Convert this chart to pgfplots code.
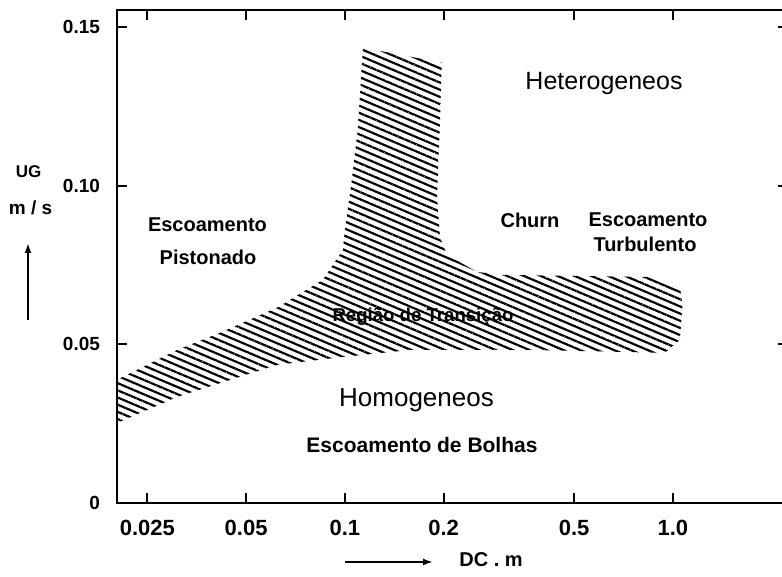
\documentclass[border=0pt]{standalone}
\usepackage{pgfplots}
\pgfplotsset{compat=1.18}
\usepackage{fontspec}
\setmainfont{Liberation Sans}
\usetikzlibrary{patterns.meta,arrows.meta}

\begin{document}
\begin{tikzpicture}
\begin{axis}[
  at={(58.5pt,37pt)}, anchor=south west,
  scale only axis, width=335.5pt, height=246.5pt,
  xmode=log, xmin=0.0202, xmax=2.243, ymin=0, ymax=0.1553,
  xtick={0.025,0.05,0.1,0.2,0.5,1}, xticklabels={0.025,0.05,0.1,0.2,0.5,1.0},
  xminorticks=false,
  ytick={0,0.05,0.1,0.15}, yticklabels={0,0.05,0.10,0.15},
  axis line style={line width=1.3pt},
  major tick length=5pt,
  tick style={line width=1pt, black},
  tick align=inside,
  xticklabel style={font=\fontsize{11}{12}\selectfont\bfseries, yshift=-5pt},
  yticklabel style={font=\fontsize{9.5}{11}\selectfont\bfseries, xshift=-5pt},
  /pgf/number format/assume math mode=true,
]
\addplot[draw=none, pattern={Lines[angle=-23,distance=3.3pt,line width=1.1pt]}, pattern color=black] coordinates {
(0.1135,0.1434) (0.1975,0.1387) (0.195,0.1207) (0.191,0.0964) (0.195,0.0838)
(0.2046,0.0782) (0.2525,0.0728) (0.297,0.0719) (0.869,0.0712) (1.05,0.0681)
(1.07,0.0624) (1.05,0.0514) (0.945,0.0473) (0.374,0.0482) (0.158,0.0482)
(0.0986,0.0460) (0.0620,0.0435) (0.0308,0.0334) (0.0202,0.0252) (0.0202,0.0388)
(0.0308,0.0482) (0.0416,0.0536) (0.0620,0.0615) (0.0857,0.0703) (0.0986,0.0797)
(0.1,0.0860) (0.105,0.1018) (0.1095,0.1176) (0.1135,0.1434)
};
\end{axis}
\begin{scope}[x=0.5pt,y=-0.5pt,yshift=288.5pt]
\node[anchor=base,font=\fontsize{12.5}{14}\selectfont] at (604,90) {Heterogeneos};
\node[anchor=base,font=\fontsize{13}{14}\selectfont] at (416.5,407) {Homogeneos};
\node[anchor=base,font=\fontsize{10}{12}\selectfont\bfseries] at (207.5,232) {Escoamento};
\node[anchor=base,font=\fontsize{10}{12}\selectfont\bfseries] at (208,265) {Pistonado};
\node[anchor=base,font=\fontsize{10}{12}\selectfont\bfseries] at (530,228) {Churn};
\node[anchor=base,font=\fontsize{10}{12}\selectfont\bfseries] at (648,227) {Escoamento};
\node[anchor=base,font=\fontsize{10}{12}\selectfont\bfseries] at (645,252) {Turbulento};
\node[anchor=base,font=\fontsize{9.3}{11}\selectfont\bfseries] at (423,322) {Região de Transição};
\node[anchor=base,font=\fontsize{10.5}{12}\selectfont\bfseries] at (422,453) {Escoamento de Bolhas};
\node[anchor=base,font=\fontsize{8.5}{10}\selectfont\bfseries] at (28.5,178) {UG};
\node[anchor=base,font=\fontsize{9.5}{10}\selectfont\bfseries] at (30.5,215) {m / s};
\node[anchor=base,font=\fontsize{10}{10}\selectfont\bfseries] at (491,567) {DC . m};
\draw[line width=1.1pt,-{Latex[length=5pt,width=3.5pt]}] (28,320) -- (28,243);
\draw[line width=1.1pt,-{Latex[length=5pt,width=3.5pt]}] (345,562) -- (433,562);
\end{scope}
\pgfresetboundingbox
\path (0,0) rectangle (391pt,288.5pt);
\end{tikzpicture}
\end{document}
